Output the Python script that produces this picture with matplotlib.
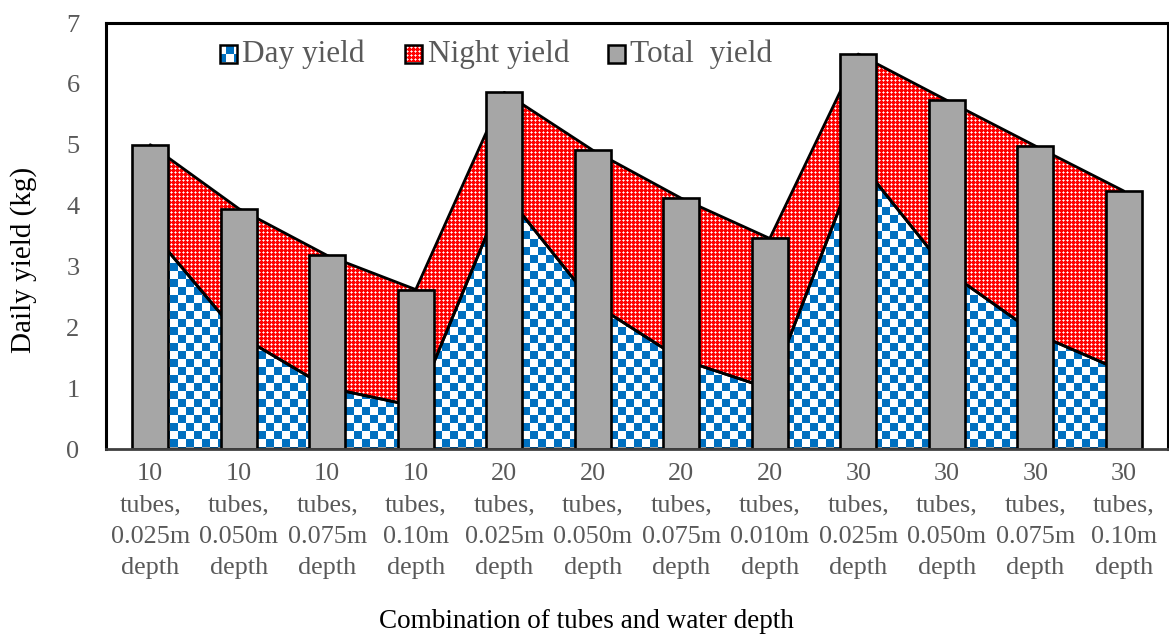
import numpy as np
import matplotlib
matplotlib.use("Agg")
import matplotlib.pyplot as plt
from matplotlib.patches import Rectangle

# ---- data -------------------------------------------------------------
categories = [
    "10\ntubes,\n0.025m\ndepth", "10\ntubes,\n0.050m\ndepth",
    "10\ntubes,\n0.075m\ndepth", "10\ntubes,\n0.10m\ndepth",
    "20\ntubes,\n0.025m\ndepth", "20\ntubes,\n0.050m\ndepth",
    "20\ntubes,\n0.075m\ndepth", "20\ntubes,\n0.010m\ndepth",
    "30\ntubes,\n0.025m\ndepth", "30\ntubes,\n0.050m\ndepth",
    "30\ntubes,\n0.075m\ndepth", "30\ntubes,\n0.10m\ndepth",
]
day_yield = np.array([3.60, 1.87, 1.01, 0.70, 4.22, 2.40, 1.47, 0.99, 4.75, 2.93, 1.90, 1.27])
night_yield = np.array([1.40, 2.08, 2.17, 1.92, 1.64, 2.51, 2.65, 2.47, 1.74, 2.80, 3.08, 2.97])
total_yield = day_yield + night_yield
y_ticks = [0, 1, 2, 3, 4, 5, 6, 7]
legend_labels = ["Day yield", "Night yield", "Total  yield"]

# ---- style ------------------------------------------------------------
plt.rcParams["font.family"] = ["Liberation Serif", "DejaVu Serif"]
BLUE = (0 / 255, 112 / 255, 192 / 255)
RED = (1.0, 0.0, 0.0)
PINK = (1.0, 0.65, 0.65)
WHITE = (1.0, 1.0, 1.0)
GREY_BAR = "#A6A6A6"
GREY_TXT = "#595959"

W, H = 1169, 642
fig = plt.figure(figsize=(W / 100, H / 100), dpi=100)
AX_L, AX_T, AX_W, AX_H = 106, 23, 1062, 426
ax = fig.add_axes([AX_L / W, (H - AX_T - AX_H) / H, AX_W / W, AX_H / H])

x = np.arange(len(categories))
ax.set_xlim(-0.5, len(categories) - 0.5)
ax.set_ylim(y_ticks[0], y_ticks[-1])


def pattern(tile, shape):
    reps = (shape[0] // tile.shape[0] + 1, shape[1] // tile.shape[1] + 1, 1)
    return np.tile(tile, reps)[: shape[0], : shape[1]]


# checkerboard fill for day yield (8 px cells)
cell = 8
checker_tile = np.empty((2 * cell, 2 * cell, 3))
checker_tile[:, :] = WHITE
checker_tile[:cell, :cell] = BLUE
checker_tile[cell:, cell:] = BLUE
checker_img = pattern(checker_tile, (AX_H, AX_W))

# red fill with fine white crosses for night yield
dot_tile = np.empty((4, 4, 3))
dot_tile[:, :] = RED
dot_tile[1, 1] = WHITE
for r, c in [(0, 1), (1, 0), (1, 2), (2, 1)]:
    dot_tile[r, c] = PINK
dot_img = pattern(dot_tile, (AX_H, AX_W))

extent = (*ax.get_xlim(), *ax.get_ylim())


def textured(img, clip_path, clip_transform=None, z=1):
    im = ax.imshow(img, extent=extent, aspect="auto", interpolation="nearest",
                   origin="upper", zorder=z)
    if clip_transform is None:
        im.set_clip_path(clip_path)
    else:
        im.set_clip_path(clip_path, clip_transform)
    return im


# stacked areas
day_poly = ax.fill_between(x, 0, day_yield, facecolor="none", edgecolor="black",
                           linewidth=2.0, zorder=3)
night_poly = ax.fill_between(x, day_yield, day_yield + night_yield, facecolor="none",
                             edgecolor="black", linewidth=2.0, zorder=3)
textured(checker_img, day_poly.get_paths()[0], ax.transData, z=2)
textured(dot_img, night_poly.get_paths()[0], ax.transData, z=2)
ax.set_xlim(-0.5, len(categories) - 0.5)
ax.set_ylim(y_ticks[0], y_ticks[-1])

# total yield columns
ax.bar(x, total_yield, width=0.41, color=GREY_BAR, edgecolor="black",
       linewidth=1.9, zorder=4)

# ---- axes cosmetics ---------------------------------------------------
for side in ["left", "top", "right"]:
    ax.spines[side].set_color("black")
    ax.spines[side].set_linewidth(2.2)
    ax.spines[side].set_zorder(6)
ax.spines["bottom"].set_color("#404040")
ax.spines["bottom"].set_linewidth(2.0)
ax.spines["bottom"].set_zorder(6)

ax.set_yticks(y_ticks)
ax.set_xticks(x)
ax.set_xticklabels(categories, linespacing=1.56)
ax.tick_params(axis="y", length=0, pad=19, labelsize=19, labelcolor=GREY_TXT)
ax.tick_params(axis="x", length=0, pad=10, labelsize=18.8, labelcolor=GREY_TXT)

fig.text(24 / W, 1 - 260 / H, "Daily yield (kg)", rotation=90, ha="center",
         va="center", fontsize=21, color="black")
fig.text(586 / W, 1 - 622 / H, "Combination of tubes and water depth",
         ha="center", va="center", fontsize=19.5, color="black")


# ---- legend -----------------------------------------------------------
def px_to_axes(px, py):
    return (px - AX_L) / AX_W, (AX_T + AX_H - py) / AX_H


box = 17
legend_items = [
    (228, legend_labels[0], checker_img, None),
    (413, legend_labels[1], dot_img, None),
    (616, legend_labels[2], None, GREY_BAR),
]
leg_y = 54
for cx, label, img, face in legend_items:
    x0, y0 = px_to_axes(cx - box / 2, leg_y + box / 2)
    bw, bh = box / AX_W, box / AX_H
    rect = Rectangle((x0, y0), bw, bh, transform=ax.transAxes,
                     facecolor=face if face else "none", edgecolor="black",
                     linewidth=1.8, zorder=8)
    ax.add_patch(rect)
    if img is not None:
        textured(img, rect, z=7)
    tx, ty = px_to_axes(cx + box / 2 + 6, leg_y)
    ax.text(tx, ty, label, transform=ax.transAxes, ha="left", va="center",
            fontsize=22.5, color=GREY_TXT, zorder=8)

fig.savefig("out.png", dpi=100)
